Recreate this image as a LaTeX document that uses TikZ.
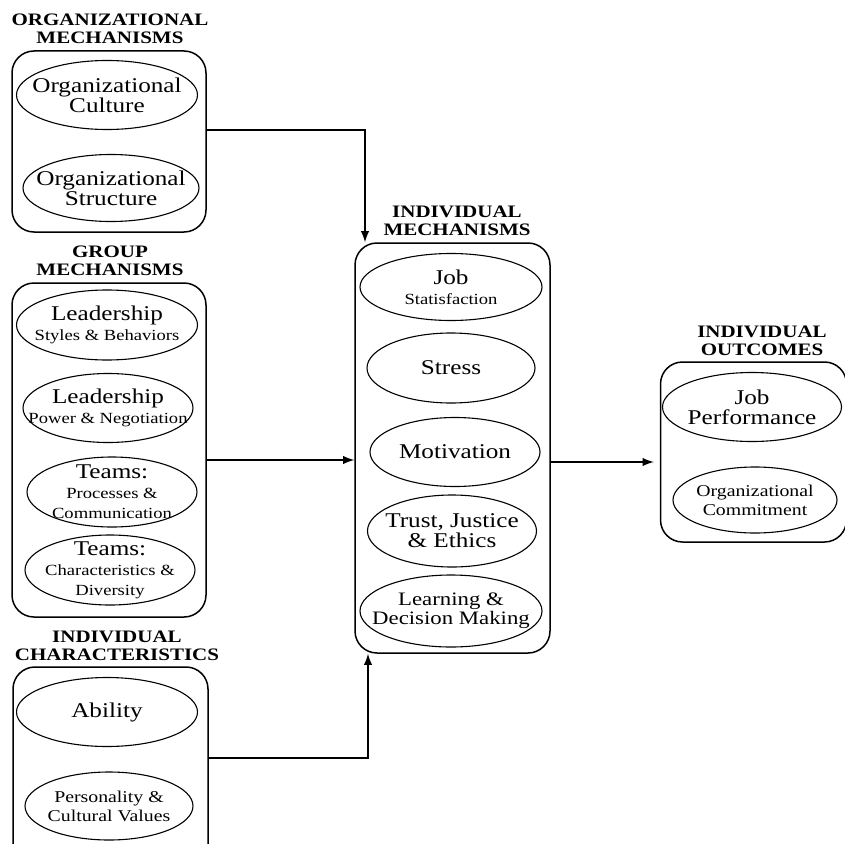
\documentclass[tikz,border=0pt]{standalone}
\usepackage{fontspec}
\setmainfont[FakeStretch=1.2]{Liberation Serif}
\usepackage{tikz}
\usetikzlibrary{arrows, positioning, shapes}

\newcommand{\bigtxt}{\fontsize{21}{20}\selectfont}
\newcommand{\midtxt}{\fontsize{19}{19}\selectfont}
\newcommand{\smtxt}{\fontsize{15.5}{18}\selectfont}
\newcommand{\hdtxt}{\fontsize{17.5}{18}\selectfont\bfseries}

\begin{document}
\begin{tikzpicture}[x=1pt, y=-1pt,
		box/.style={draw, rounded corners=22pt, line width=1.5pt},
		oval/.style={draw, ellipse, line width=1.1pt},
		inside/.style={align=center, font=\bigtxt},
		head/.style={align=center, font=\hdtxt},
		conn/.style={-latex, line width=2.8pt}]
	\useasboundingbox (0,0) rectangle (845,843);
	\clip (0,0) rectangle (845,843);

	% Organizational mechanisms
	\node[head] (orghead) at (110,29) {ORGANIZATIONAL\\MECHANISMS};
	\node[box, minimum width=194pt, minimum height=181pt] (org) at (109,141.5) {};
	\node[oval, minimum width=181pt, minimum height=69pt,
		label={[inside]center:Organizational\\Culture}] (culture) at (107,95) {};
	\node[oval, minimum width=176pt, minimum height=67pt,
		label={[inside]center:Organizational\\Structure}] (structure) at (111,188) {};

	% Group mechanisms
	\node[head] (grphead) at (110,261) {GROUP\\MECHANISMS};
	\node[box, minimum width=194pt, minimum height=334pt] (grp) at (109,450) {};
	\node[oval, minimum width=181pt, minimum height=70pt,
		label={[inside]center:Leadership\\{\smtxt Styles \& Behaviors}}] (styles) at (107,325) {};
	\node[oval, minimum width=170pt, minimum height=69pt,
		label={[inside]center:Leadership\\{\smtxt Power \& Negotiation}}] (power) at (108,408) {};
	\node[oval, minimum width=170pt, minimum height=70pt,
		label={[inside]center:Teams:\\{\smtxt Processes \&}\\{\smtxt Communication}}] (process) at (112,492) {};
	\node[oval, minimum width=170pt, minimum height=70pt,
		label={[inside]center:Teams:\\{\smtxt Characteristics \&}\\{\smtxt Diversity}}] (diversity) at (110,570) {};

	% Individual characteristics
	\node[head] (charhead) at (117,646) {INDIVIDUAL\\CHARACTERISTICS};
	\node[box, minimum width=195pt, minimum height=213pt] (char) at (110.5,773.5) {};
	\node[oval, minimum width=181pt, minimum height=69pt,
		label={[inside]center:Ability}] (ability) at (107,712) {};
	\node[oval, minimum width=168pt, minimum height=68pt,
		label={[inside, font=\fontsize{16.5}{19}\selectfont]center:Personality \&\\Cultural Values}] (person) at (109,806) {};

	% Individual mechanisms
	\node[head] (indhead) at (457,221) {INDIVIDUAL\\MECHANISMS};
	\node[box, minimum width=195pt, minimum height=410pt] (indiv) at (452.5,448) {};
	\node[oval, minimum width=182pt, minimum height=67pt,
		label={[inside]center:Job\\{\smtxt Statisfaction}}] (satisf) at (451,287) {};
	\node[oval, minimum width=168pt, minimum height=70pt,
		label={[inside]center:Stress}] (stress) at (451,368) {};
	\node[oval, minimum width=170pt, minimum height=69pt,
		label={[inside]center:Motivation}] (motiv) at (455,452) {};
	\node[oval, minimum width=169pt, minimum height=72pt,
		label={[inside]center:Trust, Justice\\\& Ethics}] (trust) at (452,531) {};
	\node[oval, minimum width=182pt, minimum height=72pt,
		label={[inside, font=\midtxt]center:Learning \&\\Decision Making}] (learn) at (451,611) {};

	% Individual outcomes
	\node[head] (outhead) at (762,341) {INDIVIDUAL\\OUTCOMES};
	\node[box, minimum width=186pt, minimum height=180pt] (outc) at (753.5,452) {};
	\node[oval, minimum width=179pt, minimum height=69pt,
		label={[inside]center:Job\\Performance}] (perf) at (752,407) {};
	\node[oval, minimum width=164pt, minimum height=66pt,
		label={[inside, font=\fontsize{16.5}{19}\selectfont]center:Organizational\\Commitment}] (commit) at (755,500) {};

	% Connectors
	\coordinate (k1) at (365,130);
	\coordinate (k2) at (0,460);
	\coordinate (k3) at (0,462);
	\coordinate (k4) at (368,758);
	\draw[conn] (org.east |- k1) -- (k1) -- (k1 |- indiv.north);
	\draw[conn] (grp.east |- k2) -- (indiv.west |- k2);
	\draw[conn, shorten >=6pt] (indiv.east |- k3) -- (outc.west |- k3);
	\draw[conn] (char.east |- k4) -- (k4) -- (k4 |- indiv.south);
\end{tikzpicture}
\end{document}
